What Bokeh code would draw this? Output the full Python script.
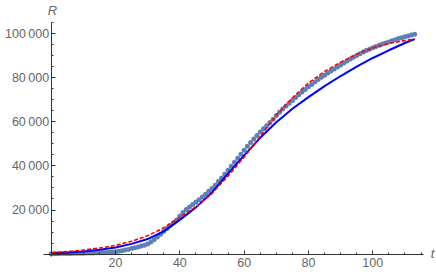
from bokeh.plotting import figure
from bokeh.models import FixedTicker, Label
from bokeh.embed import file_html
from bokeh.resources import INLINE

# observed data (days, cumulative R)
t_data = list(range(0, 114))
r_data = [
    100, 120, 150, 180, 200, 230, 260, 290, 320, 350,
    380, 420, 460, 500, 550, 600, 660, 730, 800, 900,
    1050, 1250, 1500, 1800, 2100, 2450, 2800, 3200, 3600, 4000,
    4500, 5500, 6500, 7700, 9000, 10300, 11600, 12900, 14200, 15500,
    17300, 18900, 20200, 21400, 22500, 23600, 24700, 25900, 27200, 28500,
    29800, 31300, 32900, 34600, 36300, 38100, 39900, 41700, 43500, 45300,
    47200, 49000, 50700, 52300, 53900, 55400, 56900, 58300, 59800, 61300,
    62900, 64400, 65900, 67300, 68500, 69800, 71100, 72400, 73600, 74800,
    76000, 77100, 78200, 79300, 80300, 81300, 82300, 83200, 84100, 85000,
    85900, 86800, 87700, 88600, 89400, 90200, 91000, 91800, 92500, 93100,
    93700, 94300, 94900, 95400, 95900, 96400, 96900, 97400, 97900, 98300,
    98700, 99100, 99500, 99900,
]

# model curves (sampled)
t_model = [0, 5, 10, 15, 20, 25, 30, 35, 40, 45, 50, 55, 60, 65, 70, 75,
           80, 85, 90, 95, 100, 105, 110, 113]
r_blue = [300, 600, 1100, 1900, 3000, 4600, 6800, 10300, 15500, 21200,
          28000, 36600, 44800, 52800, 59900, 66000, 71300, 76300, 80900,
          85200, 89100, 92600, 95900, 97700]
r_red = [600, 1100, 1800, 2700, 3900, 5800, 8300, 11900, 16700, 21400,
         27500, 35500, 44000, 53500, 63000, 71000, 77700, 83000, 87200,
         90800, 93700, 95700, 97000, 97700]

x_ticks = [20, 40, 60, 80, 100]
x_tick_labels = ["20", "40", "60", "80", "100"]
x_minor = [5, 10, 15, 25, 30, 35, 45, 50, 55, 65, 70, 75, 85, 90, 95, 105, 110, 115]
y_ticks = [20000, 40000, 60000, 80000, 100000]
y_tick_labels = ["20\u2009000", "40\u2009000", "60\u2009000", "80\u2009000", "100\u2009000"]
y_minor = [5000, 10000, 15000, 25000, 30000, 35000, 45000, 50000, 55000,
           65000, 70000, 75000, 85000, 90000, 95000, 105000]

p = figure(width=436, height=272, x_range=(-15.765, 119.81), y_range=(-8409, 115227),
           output_backend="svg", toolbar_location=None,
           min_border_left=0, min_border_right=0, min_border_top=0, min_border_bottom=0)
p.outline_line_color = None
p.xgrid.visible = False
p.ygrid.visible = False
p.background_fill_color = "white"
p.border_fill_color = "white"

p.scatter(t_data, r_data, size=5, fill_color="#5E81B5", line_color=None)
p.line(t_model, r_blue, line_color="#0000FF", line_width=2)
p.line(t_model, r_red, line_color="#FF0000", line_width=1.6, line_dash="4 2")

axis_col = "#333333"
lab_col = "#666666"
font = "Liberation Sans"

xa = p.xaxis[0]
xa.fixed_location = 0
xa.bounds = (-2.39, 115.76)
xa.ticker = FixedTicker(ticks=x_ticks, minor_ticks=x_minor)
xa.major_label_overrides = dict(zip(x_ticks, x_tick_labels))
ya = p.yaxis[0]
ya.fixed_location = 0
ya.bounds = (-1136, 105227)
ya.ticker = FixedTicker(ticks=y_ticks, minor_ticks=y_minor)
ya.major_label_overrides = dict(zip(y_ticks, y_tick_labels))
for ax in (xa, ya):
    ax.axis_line_color = axis_col
    ax.major_tick_line_color = axis_col
    ax.minor_tick_line_color = axis_col
    ax.major_tick_in = 4
    ax.major_tick_out = 0
    ax.minor_tick_in = 2
    ax.minor_tick_out = 0
    ax.major_label_text_color = lab_col
    ax.major_label_text_font = font
    ax.major_label_text_font_size = "12.5px"
xa.major_label_standoff = 4
ya.major_label_standoff = 2

p.add_layout(Label(x=0.4, y=110700, text="R", text_font=font, text_font_size="13px",
                   text_font_style="italic", text_color=lab_col,
                   text_align="center", text_baseline="middle"))
p.add_layout(Label(x=118.6, y=200, text="t", text_font=font, text_font_size="13px",
                   text_font_style="italic", text_color=lab_col,
                   text_align="center", text_baseline="middle"))

open("out.html", "w").write(file_html(p, INLINE))
